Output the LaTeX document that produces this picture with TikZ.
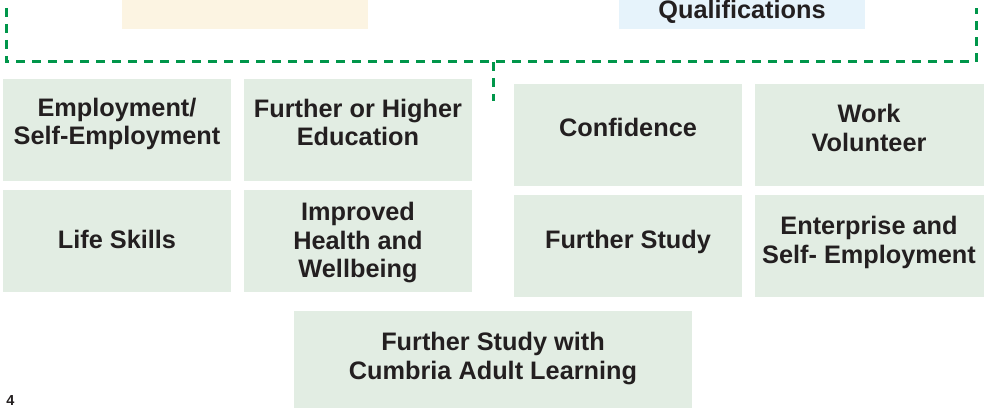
\documentclass[tikz,border=0pt]{standalone}
\usepackage{fontspec}
\setmainfont{Liberation Sans}
\definecolor{boxgreen}{HTML}{E2EDE3}
\definecolor{boxbeige}{HTML}{FCF4E2}
\definecolor{boxblue}{HTML}{E6F3FB}
\definecolor{dashgreen}{HTML}{00964A}
\definecolor{ink}{HTML}{231F20}
\begin{document}
\begin{tikzpicture}[x=1pt,y=-1pt,
  box/.style={fill=#1,draw=none,inner sep=0pt,outer sep=0pt},
  lbl/.style={text=ink,align=center,inner sep=0pt,
    font=\fontsize{25.3}{28.5}\selectfont\bfseries,
    execute at begin node={\strut},execute at end node={\strut}},
  flow/.style={draw=dashgreen,line width=3pt,dash pattern=on 9pt off 7pt}]
\useasboundingbox (0,0) rectangle (984,409);
% boxes
\path[box=boxbeige] (122,0) rectangle (368,29) node[pos=.5] (beige) {};
\path[box=boxblue] (619,0) rectangle (865,29) node[pos=.5] (blue) {};
\path[box=boxgreen] (3,79) rectangle (231,181) node[pos=.5] (emp) {};
\path[box=boxgreen] (244,79) rectangle (472,181) node[pos=.5] (foh) {};
\path[box=boxgreen] (3,190) rectangle (231,292) node[pos=.5] (life) {};
\path[box=boxgreen] (244,190) rectangle (472,292) node[pos=.5] (health) {};
\path[box=boxgreen] (514,84) rectangle (742,186) node[pos=.5] (conf) {};
\path[box=boxgreen] (755,84) rectangle (984,186) node[pos=.5] (work) {};
\path[box=boxgreen] (514,195) rectangle (742,297) node[pos=.5] (fstudy) {};
\path[box=boxgreen] (755,195) rectangle (984,297) node[pos=.5] (enter) {};
\path[box=boxgreen] (294,311) rectangle (692,408) node[pos=.5] (cal) {};
% labels
\node[lbl] (tqual) at (742,12.5) {Qualifications};
\node[lbl] (temp) at (117,125.5) {Employment/\\Self-Employment};
\node[lbl] (tfoh) at (358,126.8) {Further or Higher\\Education};
\node[lbl] (tlife) at (117,242.6) {Life Skills};
\node[lbl] (thealth) at (358,244.5) {Improved\\Health and\\Wellbeing};
\node[lbl] (tconf) at (628,131) {Confidence};
\node[lbl] (twork) at (869,131.9) {Work\\Volunteer};
\node[lbl] (tfstudy) at (628,242.6) {Further Study};
\node[lbl] (tenter) at (869,244.3) {Enterprise and\\Self- Employment};
\node[lbl] (tcal) at (493,360.3) {Further Study with\\Cumbria Adult Learning};
\node[text=ink,inner sep=0pt,font=\fontsize{14.5}{16}\selectfont\bfseries] (pnum) at (10.5,401) {4};
% dashed connector
\coordinate (lt) at (6,8);
\coordinate (lb) at (6,62);
\coordinate (rb) at (976,62);
\coordinate (rt) at (976,8);
\coordinate (mj) at (493,62);
\coordinate (md) at (493,101);
\draw[flow] (lt) -- (lb) -- (rb) -- (rt);
\draw[flow] (mj) -- (md);
\end{tikzpicture}
\end{document}
